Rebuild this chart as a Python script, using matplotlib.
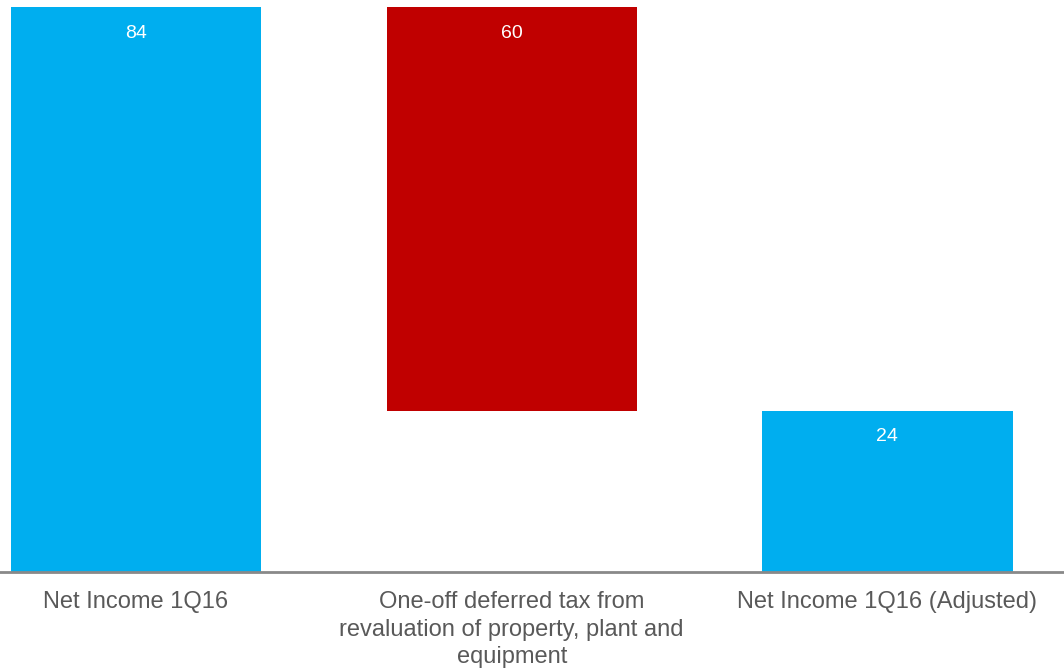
import matplotlib
matplotlib.use("Agg")
import matplotlib.pyplot as plt

plt.rcParams['font.family'] = ['Liberation Sans', 'DejaVu Sans']

categories = ["Net Income 1Q16",
              "One-off deferred tax from\nrevaluation of property, plant and\nequipment",
              "Net Income 1Q16 (Adjusted)"]
values = [84, 60, 24]
bottoms = [0, 24, 0]
colors = ["#00AEEF", "#C00000", "#00AEEF"]

fig = plt.figure(figsize=(10.64, 6.71), dpi=100)
ax = fig.add_axes([0, 1 - 572 / 671, 1, (572 - 7) / 671])

x = list(range(len(categories)))
bars = ax.bar(x, values, bottom=bottoms, width=0.666, color=colors, zorder=2)

for xi, v, b in zip(x, values, bottoms):
    ax.annotate(f"{v}", xy=(xi, b + v), xytext=(0, -19), textcoords="offset points",
                ha="center", va="center", color="white", fontsize=14)

ax.set_xlim(-0.362, 2.47)
ax.set_ylim(0, 84)
ax.set_xticks(x)
ax.set_xticklabels(categories, fontsize=17, color="#595959", linespacing=1.32)
ax.tick_params(axis="x", length=0, pad=14)
ax.set_yticks([])
for s in ["top", "right", "left"]:
    ax.spines[s].set_visible(False)
ax.spines["bottom"].set_color("#898989")
ax.spines["bottom"].set_linewidth(2)

fig.savefig("out.png", dpi=100)
